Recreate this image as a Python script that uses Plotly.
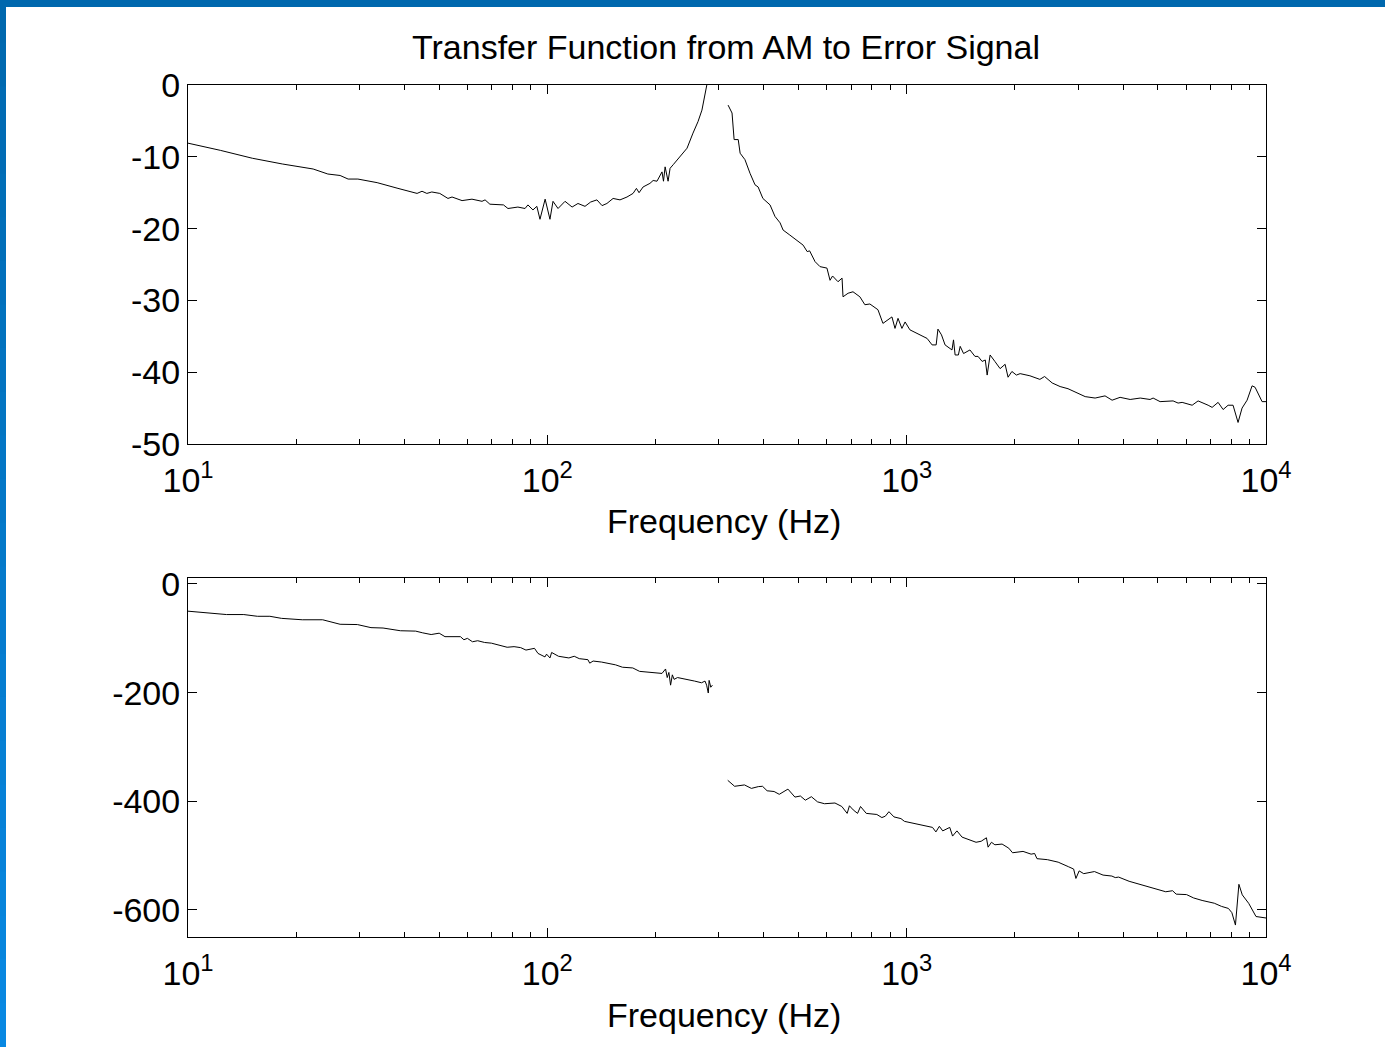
import plotly.graph_objects as go

# ---------------- data ----------------
# Magnitude (dB) - segment below resonance
mag_freq_lo = [10, 12.3, 15.1, 18.3, 22.3, 24.5, 26.5, 27.9, 29.7, 33.6, 38.4, 43.4, 44.8, 46.2,
               47.7, 50.2, 52.9, 54.3, 57.9, 61.7, 65.8, 67.1, 69.2, 75.5, 77.7, 82.8, 86.7, 88.3,
               91.2, 93.5, 95.4, 98.6, 101.7, 103.7, 107.1, 112, 117.2, 121.7, 127.3, 132, 137.4,
               142, 146.5, 152.4, 159.3, 166.6, 173.2, 177, 180, 184.7, 193, 197, 201.9, 208.5,
               210.5, 212.7, 216.8, 219.6, 224, 234, 244.8, 254.3, 262.6, 269.3, 272.9, 278, 283, 288]
mag_db_lo = [-8.1, -9.1, -10.2, -11.0, -11.7, -12.4, -12.6, -13.1, -13.1, -13.6, -14.4, -15.1, -14.8, -15.1,
             -14.9, -15.1, -15.8, -15.6, -16.1, -15.9, -16.2, -16.0, -16.6, -16.7, -17.2, -17.0, -17.2, -16.7,
             -17.4, -16.9, -18.7, -15.9, -18.7, -16.2, -17.2, -16.2, -17.0, -16.5, -16.9, -16.3, -16.0,
             -16.8, -16.5, -15.8, -16.0, -15.6, -15.1, -14.4, -15.0, -14.2, -13.7, -13.3, -13.4, -12.1,
             -13.4, -11.4, -13.4, -11.6, -11.1, -10.0, -8.8, -6.7, -5.1, -3.5, -2.1, -0.2, 2.0, 4.0]

# Magnitude (dB) - segment above resonance
mag_freq_hi = [318.4, 326.6, 331, 339.8, 344, 354.8, 366.5, 378.4, 386, 398, 416.7, 430, 444.4, 453,
               473, 498.6, 515, 528.6, 537, 556, 574, 600, 612, 622, 644, 661, 665, 687, 709, 741,
               765, 790, 832, 859, 910, 928, 946, 970, 990, 1021, 1089, 1140, 1177, 1208, 1222,
               1250, 1279, 1337, 1350, 1364, 1393, 1409, 1440, 1500, 1549, 1580, 1622, 1655, 1675,
               1707, 1760, 1820, 1879, 1915, 1963, 2020, 2069, 2203, 2348, 2420, 2541, 2673, 2812,
               2943, 3139, 3345, 3565, 3730, 3926, 4188, 4467, 4757, 4851, 5073, 5514, 5693, 5843,
               6230, 6471, 6902, 7080, 7357, 7597, 7844, 8097, 8360, 8578, 8858, 9147, 9324, 9752, 10000]
mag_db_hi = [-2.8, -3.9, -7.6, -7.6, -9.5, -10.4, -12.3, -13.9, -14.2, -15.8, -16.7, -18.3, -19.2, -20.2,
             -20.9, -21.8, -22.3, -23.2, -23.1, -24.6, -25.3, -25.5, -27.2, -26.6, -27.4, -26.9, -29.5, -29.0, -28.8, -29.5,
             -30.6, -30.5, -31.3, -33.2, -32.3, -33.9, -32.5, -33.9, -33.0, -34.1, -34.8, -35.3, -36.2, -36.2, -34.0,
             -34.8, -36.2, -36.9, -35.5, -37.6, -37.6, -36.4, -37.4, -36.9, -37.8, -37.8, -38.5, -38.3, -40.4,
             -37.6, -38.5, -39.5, -38.9, -40.7, -39.9, -40.4, -40.2, -40.5, -41.0, -40.6, -41.5, -42.0, -42.3,
             -42.8, -43.4, -43.6, -43.3, -43.9, -43.5, -43.8, -43.6, -43.8, -43.6, -44.1, -44.0, -44.3, -44.2,
             -44.6, -44.0, -44.6, -44.9, -44.2, -45.2, -44.6, -44.6, -47.0, -45.0, -43.9, -41.9, -42.1, -44.1, -44.1]

# Phase (deg) - segment below resonance
ph_freq_lo = [10, 12.8, 14.3, 15.6, 16.9, 18.2, 20.8, 23.7, 26.5, 29.6, 32.3, 34.9, 39.0, 43.0, 45.0,
              47.5, 50.0, 51.9, 57.3, 58.6, 59.9, 61.9, 64.0, 66.9, 69.9, 73.9, 77.3, 80.8, 84.3, 87.2,
              92.1, 94.2, 96.3, 98.5, 99.5, 101.7, 102.8, 107.4, 114.8, 118.8, 122.7, 129.7, 131.2, 134.1,
              141.6, 154.8, 161.8, 172.9, 180.6, 193, 208.5, 213.3, 215.6, 217.9, 220.3, 222.8, 225.3,
              230.3, 246, 257, 268.6, 274.7, 277.5, 280.5, 282, 285, 288]
ph_deg_lo = [-50.1, -56.3, -56.3, -59.5, -59.5, -63.3, -65.9, -65.9, -74.2, -74.7, -80.4, -81.1, -86.1, -86.8, -90.0,
             -93.1, -90.6, -97.0, -97.0, -102.7, -100.1, -106.4, -104.5, -107.7, -109.0, -112.8, -116.5, -115.4, -117.2, -121.7,
             -118.5, -127.9, -131.2, -134.3, -129.2, -136.2, -126.1, -133.1, -136.2, -133.1, -137.5, -139.4, -145.8, -141.9,
             -143.8, -148.9, -153.3, -154.6, -160.9, -162.9, -164.7, -156.5, -172.3, -162.9, -186.3, -167.3, -175.6,
             -172.3, -175.6, -178.8, -181.9, -178.8, -186.3, -200.8, -177.5, -190.1, -186.3]

# Phase (deg) - segment above resonance
ph_freq_hi = [317.7, 332, 353.7, 369.8, 386.5, 397, 408.9, 427.6, 442, 467.3, 488.7, 506, 522.4, 543,
              564.9, 590.8, 631.6, 660, 683, 693, 710, 730, 744, 772, 826, 853, 872, 892.6, 922, 964,
              986, 1056, 1128, 1180, 1206, 1233, 1260, 1318, 1342, 1380, 1426, 1493, 1560, 1612, 1667,
              1685, 1722, 1760, 1843, 1924, 1971, 2108, 2220, 2270, 2305, 2464, 2640, 2818, 2915, 2958,
              3020, 3110, 3331, 3520, 3724, 3806, 3889, 4159, 4498, 4918, 5260, 5496, 5623, 6010, 6288,
              6640, 6873, 7180, 7516, 7860, 8035, 8222, 8406, 8590, 8950, 9380, 10000]
ph_deg_hi = [-361.5, -372.5, -370.0, -376.4, -373.1, -372.5, -380.8, -382.1, -387.3, -377.7, -392.4, -390.4, -398.1, -391.7,
             -401.2, -404.6, -403.3, -409.7, -422.4, -408.4, -416.0, -422.4, -409.7, -422.4, -424.4, -430.1, -427.6, -419.3, -428.9, -432.0,
             -437.1, -441.7, -444.9, -448.2, -456.5, -446.2, -454.6, -448.2, -464.2, -454.6, -466.1, -470.5, -475.6, -473.7, -467.3,
             -484.6, -475.6, -480.2, -478.9, -486.5, -494.9, -492.4, -497.5, -496.2, -505.8, -507.6, -512.2, -520.5, -524.9, -542.2,
             -528.3, -533.4, -529.5, -536.0, -537.8, -540.6, -539.7, -547.4, -553.8, -560.3, -566.7, -564.8, -571.1, -571.9, -578.1,
             -582.7, -584.6, -587.8, -593.6, -597.4, -605.2, -628.0, -553.0, -572.4, -588.0, -612.3, -615.0]

x_tickvals = [10, 100, 1000, 10000]
x_ticktext = ["10<sup>1</sup>", "10<sup>2</sup>", "10<sup>3</sup>", "10<sup>4</sup>"]
x_minor = [20, 30, 40, 50, 60, 70, 80, 90, 200, 300, 400, 500, 600, 700, 800, 900,
           2000, 3000, 4000, 5000, 6000, 7000, 8000, 9000]
mag_ticks = [0, -10, -20, -30, -40, -50]
mag_ticktext = ["0", "-10", "-20", "-30", "-40", "-50"]
ph_ticks = [0, -200, -400, -600]
ph_ticktext = ["0", "-200", "-400", "-600"]

title_text = "Transfer Function from AM to Error Signal"
xlabel = "Frequency (Hz)"

# ---------------- figure ----------------
W, H = 1385, 1047
FONT = "Liberation Sans, Arial, sans-serif"
FS = 34

mag_x = mag_freq_lo + [None] + mag_freq_hi
mag_y = mag_db_lo + [None] + mag_db_hi
ph_x = ph_freq_lo + [None] + ph_freq_hi
ph_y = ph_deg_lo + [None] + ph_deg_hi

fig = go.Figure()
fig.add_trace(go.Scatter(x=mag_x, y=mag_y, mode="lines", line=dict(color="black", width=1),
                         connectgaps=False, showlegend=False, xaxis="x", yaxis="y"))
fig.add_trace(go.Scatter(x=ph_x, y=ph_y, mode="lines", line=dict(color="black", width=1),
                         connectgaps=False, showlegend=False, xaxis="x2", yaxis="y2"))

xdom = [188 / W, 1266 / W]
top_dom = [1 - 444 / H, 1 - 85 / H]
bot_dom = [1 - 937 / H, 1 - 578 / H]

common_x = dict(type="log", range=[1, 4], domain=xdom, tickvals=x_tickvals, ticktext=x_ticktext,
                ticks="inside", ticklen=9, tickwidth=1, tickcolor="black",
                showline=True, linecolor="black", linewidth=1, mirror="allticks",
                showgrid=False, zeroline=False, tickfont=dict(family=FONT, size=FS, color="black"),
                ticklabelstandoff=6, automargin=False,
                minor=dict(tickvals=x_minor, ticks="inside", ticklen=5, tickcolor="black", showgrid=False))
common_y = dict(ticks="inside", ticklen=9, tickwidth=1, tickcolor="black",
                showline=True, linecolor="black", linewidth=1, mirror="allticks",
                showgrid=False, zeroline=False, tickfont=dict(family=FONT, size=FS, color="black"),
                ticklabelstandoff=0, automargin=False)

fig.update_layout(
    width=W, height=H, autosize=False,
    margin=dict(l=0, r=0, t=0, b=0, pad=0, autoexpand=False),
    paper_bgcolor="white", plot_bgcolor="white",
    showlegend=False,
    font=dict(family=FONT, size=FS, color="black"),
    xaxis=dict(anchor="y", **common_x),
    yaxis=dict(anchor="x", domain=top_dom, range=[-50, 0], tickvals=mag_ticks, ticktext=mag_ticktext, **common_y),
    xaxis2=dict(anchor="y2", **common_x),
    yaxis2=dict(anchor="x2", domain=bot_dom, range=[-650, 11], tickvals=ph_ticks, ticktext=ph_ticktext, **common_y),
    title=dict(text=title_text, x=726 / W, xanchor="center", y=1 - 47 / H, yanchor="middle",
               yref="container", xref="container", automargin=False,
               font=dict(family=FONT, size=FS, color="black")),
)

fig.add_annotation(text=xlabel, x=724 / W, y=1 - 521 / H, xref="paper", yref="paper",
                   showarrow=False, xanchor="center", yanchor="middle",
                   font=dict(family=FONT, size=FS, color="black"))
fig.add_annotation(text=xlabel, x=724 / W, y=1 - 1015 / H, xref="paper", yref="paper",
                   showarrow=False, xanchor="center", yanchor="middle",
                   font=dict(family=FONT, size=FS, color="black"))

# slide frame: blue band on top and a vertical gradient band on the left
fig.add_shape(type="rect", xref="paper", yref="paper", x0=0, x1=1, y0=1 - 7 / H, y1=1,
              fillcolor="#0068AE", line=dict(width=0), layer="above")
n = 24
c0 = (0x00, 0x68, 0xAE)
c1 = (0x08, 0x88, 0xE2)
for i in range(n):
    t = i / (n - 1)
    col = "rgb(%d,%d,%d)" % tuple(round(a + (b - a) * t) for a, b in zip(c0, c1))
    fig.add_shape(type="rect", xref="paper", yref="paper", x0=0, x1=6 / W,
                  y0=1 - (i + 1) / n, y1=1 - i / n + 0.001,
                  fillcolor=col, line=dict(width=0), layer="above")

fig.write_html("out.html", config={"displayModeBar": False},
               post_script="document.body.style.margin='0px';document.body.style.overflow='hidden';")
